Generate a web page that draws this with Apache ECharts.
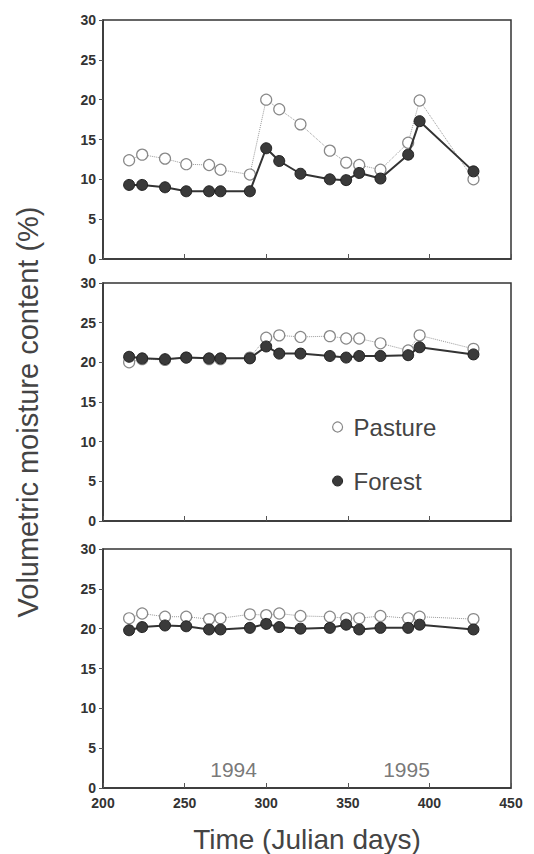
<!DOCTYPE html>
<html>
<head>
<meta charset="utf-8">
<script src="https://cdn.jsdelivr.net/npm/echarts@6/dist/echarts.min.js"></script>
<style>
  html, body { margin: 0; padding: 0; background: #fff; }
  #moisture { width: 534px; height: 854px; }
</style>
</head>
<body>
<div id="moisture"></div>
<script>
// sampling dates (Julian days, 1995 continues past 365)
var days = [216, 224, 238, 251, 265, 272, 290, 300, 308, 321, 339, 349, 357, 370, 387, 394, 427];

// top panel
var pastureTop = [12.4, 13.1, 12.6, 11.9, 11.8, 11.2, 10.6, 20.0, 18.8, 16.9, 13.6, 12.1, 11.8, 11.2, 14.6, 19.9, 10.0];
var forestTop  = [9.3, 9.3, 9.0, 8.5, 8.5, 8.5, 8.5, 13.9, 12.3, 10.7, 10.0, 9.9, 10.8, 10.1, 13.1, 17.3, 11.0];

// middle panel
var pastureMid = [20.0, 20.4, 20.3, 20.6, 20.4, 20.4, 20.6, 23.1, 23.4, 23.2, 23.3, 23.0, 23.0, 22.4, 21.5, 23.4, 21.7];
var forestMid  = [20.7, 20.5, 20.4, 20.6, 20.5, 20.5, 20.5, 22.0, 21.1, 21.1, 20.8, 20.6, 20.8, 20.8, 20.9, 21.9, 21.0];

// bottom panel
var pastureBot = [21.3, 21.9, 21.5, 21.5, 21.2, 21.3, 21.8, 21.7, 21.9, 21.6, 21.5, 21.3, 21.3, 21.6, 21.3, 21.5, 21.2];
var forestBot  = [19.8, 20.2, 20.4, 20.3, 19.9, 19.9, 20.1, 20.6, 20.2, 20.0, 20.1, 20.5, 19.9, 20.1, 20.1, 20.5, 19.9];

var yearNames = ['1994', '1995'];
var yearDays = [280, 386];

var pair = function(ys) {
    return days.map(function(d, i) { return [d, ys[i]]; });
};

var moisture = function()
{
    var draw = function() {
        var myChart = echarts.init(document.getElementById('moisture'), null, {renderer: 'svg'});

        var grids = [
            {left: 103, right: 23, top: 20, height: 239},
            {left: 103, right: 23, top: 283, height: 238},
            {left: 103, right: 23, top: 549, height: 239}
        ];

        var xAxes = grids.map(function(g, i) {
            return {
                type: 'value',
                gridIndex: i,
                min: 200,
                max: 450,
                interval: 50,
                axisLine: {onZero: false, lineStyle: {color: '#333', width: 1.5}},
                axisTick: {show: true, inside: true, length: 5, lineStyle: {color: '#555'}},
                axisLabel: {
                    show: i === 2,
                    color: '#333',
                    fontFamily: 'Liberation Sans',
                    fontWeight: 'bold',
                    fontSize: 14,
                    margin: 8
                },
                splitLine: {show: false},
                name: i === 2 ? 'Time (Julian days)' : '',
                nameLocation: 'middle',
                nameGap: 37,
                nameTextStyle: {color: '#444', fontFamily: 'Liberation Sans', fontSize: 28}
            };
        });

        var yAxes = grids.map(function(g, i) {
            return {
                type: 'value',
                gridIndex: i,
                min: 0,
                max: 30,
                interval: 5,
                axisLine: {lineStyle: {color: '#333', width: 1.5}},
                axisTick: {show: true, length: 4, lineStyle: {color: '#555'}},
                axisLabel: {
                    color: '#333',
                    fontFamily: 'Liberation Sans',
                    fontWeight: 'bold',
                    fontSize: 14,
                    margin: 7
                },
                splitLine: {show: false}
            };
        });

        var pastureSeries = function(data, idx) {
            return {
                name: 'Pasture',
                type: 'line',
                xAxisIndex: idx,
                yAxisIndex: idx,
                data: pair(data),
                symbol: 'circle',
                symbolSize: 11,
                z: 2,
                lineStyle: {color: '#999', width: 1, type: 'dotted'},
                itemStyle: {color: '#fff', borderColor: '#888', borderWidth: 1.2}
            };
        };
        var forestSeries = function(data, idx) {
            return {
                name: 'Forest',
                type: 'line',
                xAxisIndex: idx,
                yAxisIndex: idx,
                data: pair(data),
                symbol: 'circle',
                symbolSize: 11,
                z: 3,
                lineStyle: {color: '#333', width: 2},
                itemStyle: {color: '#3a3a3a', borderColor: '#222', borderWidth: 1}
            };
        };

        var option = {
            backgroundColor: '#fff',
            animation: false,
            grid: grids.map(function(g) {
                return Object.assign({show: true, borderColor: '#333', borderWidth: 1.5, backgroundColor: 'transparent'}, g);
            }),
            xAxis: xAxes,
            yAxis: yAxes,
            graphic: [{
                type: 'text',
                x: 28,
                y: 412,
                rotation: Math.PI / 2,
                style: {
                    text: 'Volumetric moisture content (%)',
                    fill: '#444',
                    fontFamily: 'Liberation Sans',
                    fontSize: 29,
                    textAlign: 'center',
                    textVerticalAlign: 'middle'
                }
            }],
            legend: {
                orient: 'vertical',
                left: 327,
                top: 410,
                itemWidth: 10,
                itemHeight: 10,
                itemGap: 30,
                textStyle: {color: '#444', fontFamily: 'Liberation Sans', fontSize: 24, padding: [0, 0, 0, 6]},
                data: [
                    {name: 'Pasture', icon: 'circle', itemStyle: {color: '#fff', borderColor: '#888', borderWidth: 1.2}},
                    {name: 'Forest', icon: 'circle', itemStyle: {color: '#3a3a3a', borderColor: '#222', borderWidth: 1}}
                ]
            },
            series: [
                pastureSeries(pastureTop, 0),
                forestSeries(forestTop, 0),
                pastureSeries(pastureMid, 1),
                forestSeries(forestMid, 1),
                pastureSeries(pastureBot, 2),
                forestSeries(forestBot, 2),
                {
                    name: 'years',
                    type: 'scatter',
                    xAxisIndex: 2,
                    yAxisIndex: 2,
                    symbolSize: 1,
                    silent: true,
                    itemStyle: {color: 'rgba(0,0,0,0)'},
                    data: yearDays.map(function(d, i) { return {value: [d, 2.3], name: yearNames[i]}; }),
                    label: {
                        show: true,
                        position: 'inside',
                        formatter: '{b}',
                        color: '#555',
                        fontFamily: 'Liberation Sans',
                        fontSize: 21
                    }
                }
            ]
        };

        myChart.setOption(option);
    };

    return {
        init: function() {
            draw();
        }
    };
}();

moisture.init();
</script>
</body>
</html>
